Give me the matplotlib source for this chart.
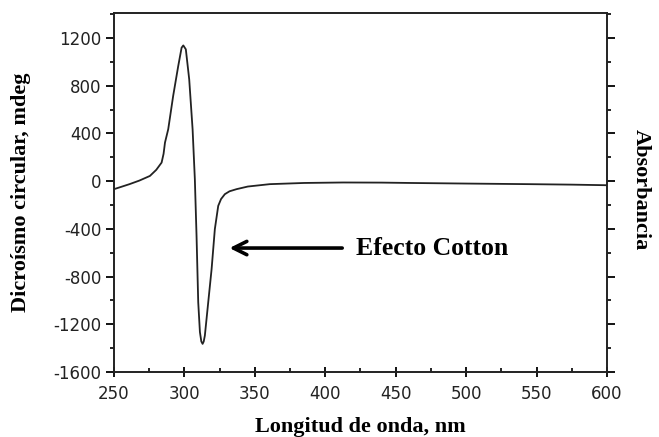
import matplotlib.pyplot as plt
from matplotlib.ticker import MultipleLocator

# CD spectrum
wavelength = [250, 255, 261, 268, 275.5, 280, 283.8, 285.2, 286.2, 288.5, 292, 295.6, 298,
              299.2, 301, 303.4, 305.8, 307.4, 308.6, 309.8, 311, 312, 312.9, 313.7,
              314.5, 316.9, 319.3, 321.6, 324, 326, 328.7, 332, 337, 345, 360.6,
              385, 412.6, 440, 460, 500, 545, 575, 600]
cd_mdeg = [-67, -48, -25, 5, 44, 95, 156, 230, 324, 436, 715, 966, 1120,
           1139, 1106, 854, 436, 17, -458, -1016, -1266, -1345, -1365, -1345,
           -1296, -1016, -737, -402, -207, -150, -109, -85, -67, -45, -25,
           -15, -11, -12, -15, -20, -25, -29, -34]

left_ticks = [-1600, -1200, -800, -400, 0, 400, 800, 1200]
x_ticks = [250, 300, 350, 400, 450, 500, 550, 600]

fig = plt.figure(figsize=(6.59, 4.37), dpi=100)
ax = fig.add_axes([0.173, 0.149, 0.748, 0.821])

ax.plot(wavelength, cd_mdeg, color='#222222', lw=1.3)

ax.set_xlim(250, 600)
ax.set_ylim(-1600, 1410)
ax.set_xticks(x_ticks)
ax.set_yticks(left_ticks)
ax.set_yticklabels([str(t) for t in left_ticks])
ax.xaxis.set_minor_locator(MultipleLocator(25))
ax.yaxis.set_minor_locator(MultipleLocator(200))

for sp in ax.spines.values():
    sp.set_linewidth(1.4)
    sp.set_color('#222222')

ax.tick_params(axis='y', which='major', direction='out', length=6, width=1.3,
               labelsize=12, right=True, pad=3, labelcolor='#222222')
ax.tick_params(axis='y', which='minor', direction='out', length=3, width=1.2, right=True)
ax.tick_params(axis='x', which='major', direction='inout', length=7, width=1.3,
               labelsize=12, pad=6, labelcolor='#222222')
ax.tick_params(axis='x', which='minor', direction='in', length=3, width=1.2)

ax.set_xlabel('Longitud de onda, nm', fontfamily='Liberation Serif',
              fontweight='bold', fontsize=16, labelpad=10)
ax.set_ylabel('Dicroísmo circular, mdeg', fontfamily='Liberation Serif',
              fontweight='bold', fontsize=16, labelpad=16)
fig.text(0.972, 0.565, 'Absorbancia', rotation=270, ha='center', va='center',
         fontfamily='Liberation Serif', fontweight='bold', fontsize=16)

ax.annotate('', xy=(330, -561), xytext=(414, -561),
            arrowprops=dict(arrowstyle='->', lw=2.6, color='black', mutation_scale=24))
ax.text(422, -561, 'Efecto Cotton', fontfamily='Liberation Serif', fontweight='bold',
        fontsize=18.5, va='center', ha='left')

fig.savefig('out.png', dpi=100)
